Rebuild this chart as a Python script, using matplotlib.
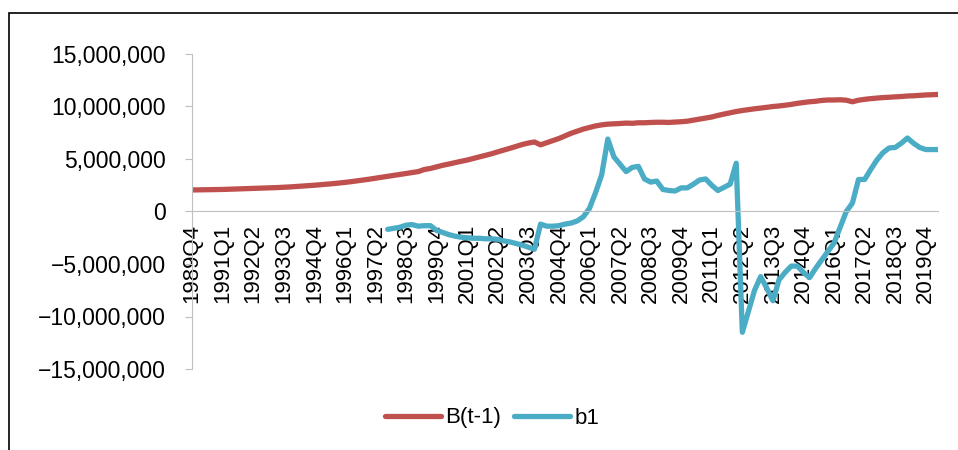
import numpy as np
import matplotlib.pyplot as plt
from matplotlib.patches import Rectangle
from matplotlib.ticker import FuncFormatter

plt.rcParams['font.family'] = ['Liberation Sans', 'DejaVu Sans']

# quarterly categories 1989Q4 .. 2020Q2
quarters = ['1989Q4'] + [f'{y}Q{q}' for y in range(1990, 2020) for q in range(1, 5)] + ['2020Q1', '2020Q2']

# B(t-1), millions
b_prev = [
    2.05, 2.06, 2.07, 2.08, 2.09, 2.10, 2.12, 2.14, 2.16, 2.18,
    2.20, 2.22, 2.24, 2.26, 2.28, 2.31, 2.34, 2.38, 2.42, 2.46,
    2.50, 2.55, 2.60, 2.65, 2.71, 2.77, 2.84, 2.92, 3.00, 3.08,
    3.17, 3.26, 3.35, 3.44, 3.53, 3.62, 3.71, 3.80, 4.00, 4.10,
    4.25, 4.40, 4.52, 4.65, 4.78, 4.90, 5.05, 5.20, 5.35, 5.50,
    5.68, 5.85, 6.02, 6.20, 6.38, 6.52, 6.62, 6.35, 6.55, 6.75,
    6.95, 7.20, 7.45, 7.65, 7.85, 8.00, 8.15, 8.25, 8.32, 8.35,
    8.38, 8.42, 8.40, 8.45, 8.45, 8.48, 8.50, 8.50, 8.48, 8.52,
    8.55, 8.60, 8.70, 8.80, 8.90, 9.00, 9.15, 9.28, 9.40, 9.52,
    9.62, 9.70, 9.78, 9.85, 9.92, 10.00, 10.05, 10.12, 10.20, 10.30,
    10.38, 10.45, 10.50, 10.58, 10.62, 10.62, 10.64, 10.60, 10.45, 10.60,
    10.68, 10.75, 10.80, 10.85, 10.88, 10.92, 10.95, 11.00, 11.02, 11.06,
    11.10, 11.12, 11.15,
]

# b1 starts at 1997Q4, millions
b1_start = 32
b1 = [
    -1.7, -1.6, -1.5, -1.3, -1.25, -1.4, -1.35, -1.35, -1.8, -2.0,
    -2.2, -2.35, -2.45, -2.5, -2.55, -2.55, -2.6, -2.6, -2.65, -2.8,
    -2.9, -3.05, -3.2, -3.4, -3.6, -1.2, -1.4, -1.4, -1.35, -1.2,
    -1.1, -0.9, -0.5, 0.3, 1.8, 3.5, 6.9, 5.2, 4.5, 3.8,
    4.2, 4.3, 3.1, 2.8, 2.9, 2.1, 2.0, 1.95, 2.25, 2.25,
    2.6, 3.0, 3.1, 2.5, 2.0, 2.3, 2.6, 4.6, -11.5, -9.5,
    -7.5, -6.2, -7.3, -8.5, -6.5, -5.8, -5.2, -5.2, -5.8, -6.3,
    -5.4, -4.6, -3.8, -3.0, -1.5, 0.0, 0.8, 3.05, 3.05, 4.0,
    4.9, 5.6, 6.05, 6.1, 6.5, 7.0, 6.5, 6.1, 5.9, 5.9, 5.9,
]

x = np.arange(len(quarters))
x_b1 = np.arange(b1_start, b1_start + len(b1))

fig = plt.figure(figsize=(9.58, 4.5), dpi=100)
ax = fig.add_axes([192 / 958, 1 - 369 / 450, (938 - 192) / 958, (369 - 54) / 450])

# outer frame (only top and left edges fall inside the picture)
fig.patches.append(Rectangle((9 / 958, -0.1), 1.2, 1.1 - 13 / 450,
                             transform=fig.transFigure, fill=False,
                             edgecolor='black', linewidth=1.2))

ax.plot(x, np.array(b_prev) * 1e6, color='#C0504D', lw=3.8, label='B(t-1)',
        solid_capstyle='round', solid_joinstyle='round')
ax.plot(x_b1, np.array(b1) * 1e6, color='#4BACC6', lw=3.8, label='b1',
        solid_capstyle='round', solid_joinstyle='round')

for s in ['top', 'right']:
    ax.spines[s].set_visible(False)
ax.spines['bottom'].set_position(('data', 0))
ax.spines['bottom'].set_color('#BFBFBF')
ax.spines['left'].set_color('#BFBFBF')

ax.set_xlim(0, len(quarters) - 1)
ax.set_ylim(-15e6, 15e6)
ax.set_yticks(np.arange(-15e6, 15e6 + 1, 5e6))
ax.yaxis.set_major_formatter(FuncFormatter(
    lambda v, p: f'{int(v):,}'.replace('-', '\u2212')))

ax.set_xticks(x[::5])
ax.set_xticklabels(quarters[::5], rotation=90, ha='center', va='top', fontsize=16)
ax.tick_params(axis='x', length=0, pad=9)
ax.tick_params(axis='y', length=5, color='#BFBFBF', pad=14, labelsize=16.5)

fig.legend(*ax.get_legend_handles_labels(), loc='center',
           bbox_to_anchor=(492 / 958, 1 - 418 / 450), ncol=2, frameon=False,
           fontsize=16, handlelength=2.5, columnspacing=0.6, handletextpad=0.2)

fig.savefig('out.png', dpi=100)
